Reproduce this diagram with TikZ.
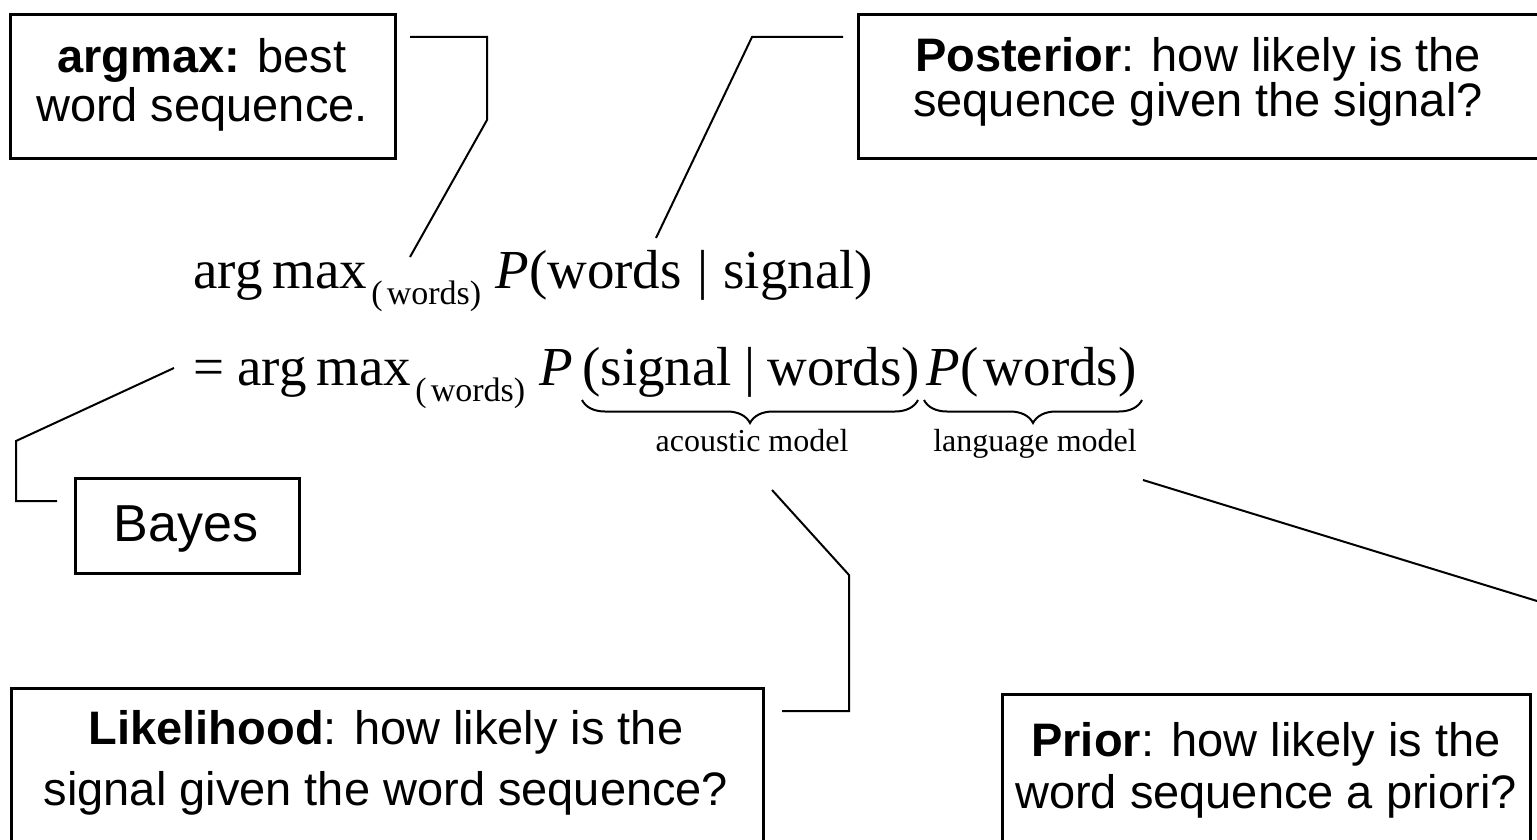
\documentclass[tikz,border=0pt]{standalone}
\usepackage{fontspec}
\setmainfont{Liberation Serif}
\newfontfamily\arial{Liberation Sans}
\usetikzlibrary{decorations.pathreplacing}

\tikzset{
  box/.style={draw, line width=1.4pt, inner sep=0pt, anchor=north west},
  txt/.style={inner sep=0pt, anchor=base, font=\arial\fontsize{23.5pt}{28pt}\selectfont},
  bigtxt/.style={inner sep=0pt, anchor=base, font=\arial\fontsize{26pt}{30pt}\selectfont},
  fm/.style={inner sep=0pt, anchor=base west, font=\fontsize{27.5pt}{33pt}\selectfont},
  fsub/.style={inner sep=0pt, anchor=base west, font=\fontsize{17pt}{20pt}\selectfont},
  lbl/.style={inner sep=0pt, anchor=base, font=\fontsize{16pt}{19pt}\selectfont},
  brc/.style={line width=1pt, decorate, decoration={brace, mirror, amplitude=11.5pt}},
  conn/.style={line width=1pt}
}
\newcommand{\barsp}{\hspace{0.28em}|\hspace{0.28em}}
\newcommand{\barnarrow}{\hspace{0.22em}|\hspace{0.22em}}
\newcommand{\argmaxop}{arg\hspace{0.18em}max}

\begin{document}
\begin{tikzpicture}[x=0.5pt, y=-0.5pt]
\useasboundingbox (0,0) rectangle (1537,840);

% ---- call-out boxes ----
\node[box, minimum width=192.5pt, minimum height=72pt] (argbox) at (9,13) {};
\node[txt] (argl1) at (202,73) {\textbf{argmax:} best};
\node[txt] (argl2) at (202,122) {word sequence.};

\node[box, minimum width=341pt, minimum height=72pt] (postbox) at (857,13) {};
\node[txt] (postl1) at (1198,72) {\textbf{Posterior}: how likely is the};
\node[txt] (postl2) at (1198,117) {sequence given the signal?};

\node[box, minimum width=112pt, minimum height=47.5pt] (bayesbox) at (74,477) {};
\node[bigtxt] (bayesl) at (186,541) {Bayes};

\node[box, minimum width=376pt, minimum height=82pt] (likebox) at (10,687) {};
\node[txt] (likel1) at (386,744) {\textbf{Likelihood}: how likely is the};
\node[txt] (likel2) at (386,805) {signal given the word sequence?};

\node[box, minimum width=264pt, minimum height=79pt] (priorbox) at (1001,693) {};
\node[txt] (priorl1) at (1266,756) {\textbf{Prior}: how likely is the};
\node[txt] (priorl2) at (1266,808) {word sequence a priori?};

% ---- formula, first line ----
\node[fm] (a1) at (193,288) {\argmaxop};
\node[fsub] (s1) at (371,304) {(\hspace{0.12em}words)};
\node[fm] (p1) at (495,288) {\textit{P}(words\barsp signal)};

% ---- formula, second line ----
\node[fm] (eq) at (193,385) {=};
\node[fm] (a2) at (237,385) {\argmaxop};
\node[fsub] (s2) at (415,401) {(\hspace{0.12em}words)};
\node[fm] (p2) at (539,385) {\textit{P}};
\node[fm] (sw) at (582,385) {(signal\barnarrow words)};
\node[fm] (pw) at (926,385) {\textit{P}(\hspace{0.1em}words)};

% ---- braces and their labels ----
\draw[brc] (582,400) -- (918,400);
\draw[brc] (924,400) -- (1142,400);
\node[lbl] (acl) at (752,451) {acoustic model};
\node[lbl] (lml) at (1035,451) {language model};

% ---- connector end points ----
\coordinate (argtail) at (410,37);
\coordinate (arghead) at (410,257);
\coordinate (posttail) at (843,37);
\coordinate (posthead) at (656,238);
\coordinate (bayestail) at (57,501);
\coordinate (bayeshead) at (174,368);
\coordinate (liketail) at (782,711);
\coordinate (likehead) at (772,490);
\coordinate (priorhead) at (1143,480);
\coordinate (priortail) at (1537,601);

% ---- connectors ----
\draw[conn] (argtail) -- (487,37) -- (487,120) -- (arghead);
\draw[conn] (posttail) -- (752,37) -- (posthead);
\draw[conn] (bayestail) -- (16,501) -- (16,441) -- (bayeshead);
\draw[conn] (liketail) -- (849,711) -- (849,575) -- (likehead);
\draw[conn] (priorhead) -- (priortail);
\end{tikzpicture}
\end{document}
